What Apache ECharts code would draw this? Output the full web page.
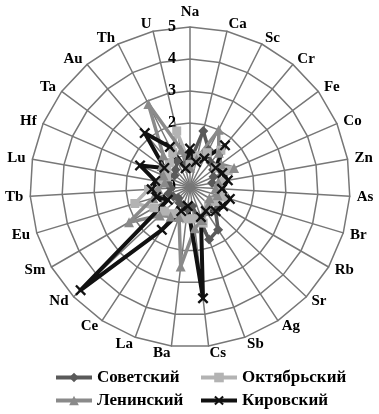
<!DOCTYPE html>
<html><head><meta charset="utf-8">
<script src="https://cdn.jsdelivr.net/npm/echarts@6/dist/echarts.min.js"></script>
<style>html,body{margin:0;padding:0;background:#fff}#c{width:379px;height:414px}</style>
</head><body><div id="c"></div>
<script>
const categories = ['Na','Ca','Sc','Cr','Fe','Co','Zn','As','Br','Rb','Sr','Ag','Sb','Cs','Ba','La','Ce','Nd','Sm','Eu','Tb','Lu','Hf','Ta','Au','Th','U'];
const tickLabels = ['0','1','2','3','4','5'];
const sovetsky   = [0.8,1.8,1.3,1.0,0.9,0.8,0.7,0.9,1.0,1.0,1.1,1.6,1.75,0.6,0.7,0.6,0.6,0.5,0.6,0.7,0.6,0.7,0.8,0.6,0.7,0.9,0.7];
const oktyabrsky = [0.7,1.0,1.2,1.5,1.0,1.3,1.0,0.9,1.1,0.9,0.8,0.9,1.2,1.0,1.0,0.9,1.0,1.1,1.3,1.8,1.3,0.9,0.8,0.9,1.0,1.2,1.8];
const leninsky   = [0.6,0.9,2.0,1.4,1.2,1.5,0.9,0.8,0.9,0.7,0.8,0.9,1.1,1.3,2.5,1.0,1.1,1.3,2.2,1.2,1.0,0.8,0.9,1.1,1.3,2.9,1.2];
const kirovsky   = [1.2,0.8,1.0,1.7,1.0,1.1,1.2,1.0,1.3,1.2,1.1,0.9,1.0,3.5,0.6,0.8,1.6,4.7,0.8,1.1,1.2,1.1,1.7,1.0,2.2,1.4,0.6];
const seriesNames = ['Советский','Октябрьский','Ленинский','Кировский'];

const font = 'Liberation Serif';
const crossPath = 'path://M0,1.5L1.5,0L5,3.5L8.5,0L10,1.5L6.5,5L10,8.5L8.5,10L5,6.5L1.5,10L0,8.5L3.5,5Z';
const styles = [
  {color:'#5a5a5a', symbol:'diamond', size:10},
  {color:'#b3b3b3', symbol:'rect', size:9},
  {color:'#8a8a8a', symbol:'triangle', size:10},
  {color:'#111111', symbol:crossPath, size:11}
];
const dataSets = [sovetsky, oktyabrsky, leninsky, kirovsky];
const center = [190,187], radius = 160;
// radar draws counter-clockwise; reorder so the categories run clockwise from the top
const order = [0].concat(categories.map((_,i)=>i).slice(1).reverse());
const reorder = arr => order.map(i=>arr[i]);

const legendPos = [[54,369],[199,369],[54,392],[199,392]];
const legends = seriesNames.map((n,i)=>({
  data:[n], left:legendPos[i][0], top:legendPos[i][1], padding:0, itemWidth:36, itemHeight:12, itemGap:4,
  lineStyle:{width:4},
  textStyle:{fontFamily:font, fontWeight:'bold', fontSize:17, color:'#000'}
}));

const chart = echarts.init(document.getElementById('c'));
chart.setOption({
  animation:false,
  legend:legends,
  grid:{show:false, left:-100, top:-100, width:10, height:10},
  xAxis:{show:false, type:'category', data:['a']},
  yAxis:{show:false, type:'value'},
  radar:{
    center:center, radius:radius, shape:'polygon', splitNumber:5, startAngle:90,
    indicator: reorder(categories).map(n=>({name:n, min:0, max:5})),
    axisName:{color:'#000', fontFamily:font, fontWeight:'bold', fontSize:15},
    nameGap:7,
    splitArea:{show:false},
    splitLine:{lineStyle:{color:'#777', width:1.5}},
    axisLine:{lineStyle:{color:'#777', width:1.5}}
  },
  polar:{center:center, radius:radius},
  angleAxis:{show:false, startAngle:90, min:0, max:360},
  radiusAxis:{min:0, max:5, interval:1, axisLine:{show:false}, axisTick:{show:false}, splitLine:{show:false},
    axisLabel:{show:true, fontFamily:font, fontWeight:'bold', fontSize:16, color:'#000', margin:14,
      formatter:(v)=>tickLabels[Math.round(v)]}},
  series: seriesNames.map((n,i)=>({
    type:'line', name:n, data:[], symbol:styles[i].symbol, symbolSize:styles[i].size,
    lineStyle:{color:styles[i].color, width:4}, itemStyle:{color:styles[i].color}
  })).concat([{
    type:'radar',
    data: dataSets.map((d,i)=>({
      name:seriesNames[i], value:reorder(d), symbol:styles[i].symbol, symbolSize:styles[i].size,
      lineStyle:{color:styles[i].color, width:i===3?4:3.5},
      itemStyle:{color:styles[i].color}
    }))
  }])
});
</script></body></html>
